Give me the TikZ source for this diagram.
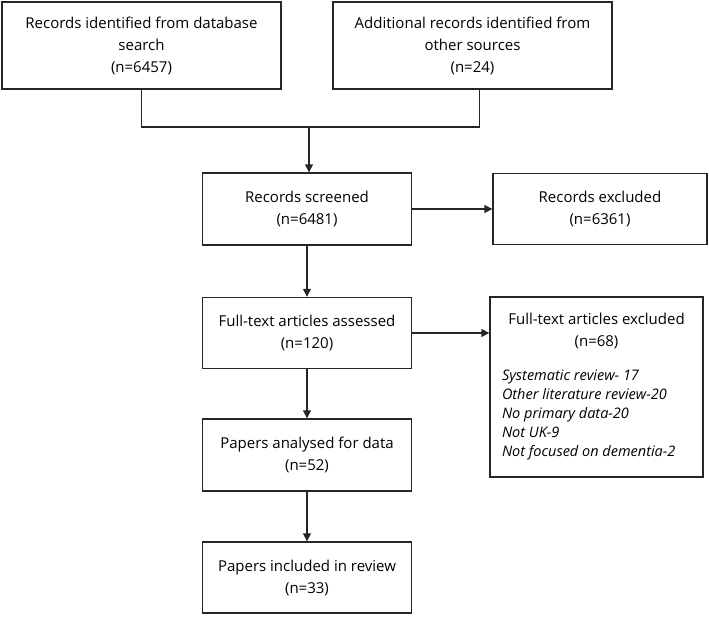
\documentclass[tikz,border=0pt]{standalone}
\usepackage{fontspec}
\setmainfont{Open Sans}
\usetikzlibrary{arrows.meta}

\begin{document}
\begin{tikzpicture}[
        x=1pt, y=-1pt,
        box/.style={rectangle, draw=black!85, line width=1.4pt, fill=white, align=center,
            font=\fontsize{15}{22}\selectfont, inner sep=0pt},
        line/.style={draw=black!85, line width=1.4pt},
        arr/.style={line, -{Triangle[length=8pt, width=8pt]}},
    ]
    \useasboundingbox (0,0) rectangle (709,616);

    \node[box, minimum width=279, minimum height=87] (1) at (141.5,45.5) {Records identified from database\\search\\(n=6457)};
    \node[box, minimum width=279, minimum height=87] (2) at (472.5,45.5) {Additional records identified from\\other sources\\(n=24)};

    \node[box, minimum width=209, minimum height=72] (3) at (307,209) {Records screened\\(n=6481)};
    \node[box, minimum width=214, minimum height=71] (4) at (600,209) {Records excluded\\(n=6361)};

    \node[box, minimum width=209, minimum height=71] (5) at (307,333) {Full-text articles assessed\\(n=120)};
    \node[box, minimum width=213, minimum height=180] (6) at (596.5,387) {Full-text articles excluded\\(n=68)\\[12pt]
        \parbox[t]{189pt}{\fontsize{14.5}{19}\selectfont\itshape Systematic review- 17\\Other literature review-20\\No primary data-20\\Not UK-9\\Not focused on dementia-2}};

    \node[box, minimum width=209, minimum height=72] (7) at (307,455) {Papers analysed for data\\(n=52)};
    \node[box, minimum width=209, minimum height=71] (8) at (307,577.5) {Papers included in review\\(n=33)};

    \coordinate (m) at (309,127);

    \draw[line] (1.south) |- (m) -| ([xshift=7]2.south);
    \draw[arr] (m) -- (m |- 3.north);

    \draw[arr] (3) -- (4);
    \draw[arr] (3) -- (5);
    \draw[arr] (5.east) -- (5.east -| 6.west);
    \draw[arr] (5) -- (7);
    \draw[arr] (7) -- (8);
\end{tikzpicture}
\end{document}
